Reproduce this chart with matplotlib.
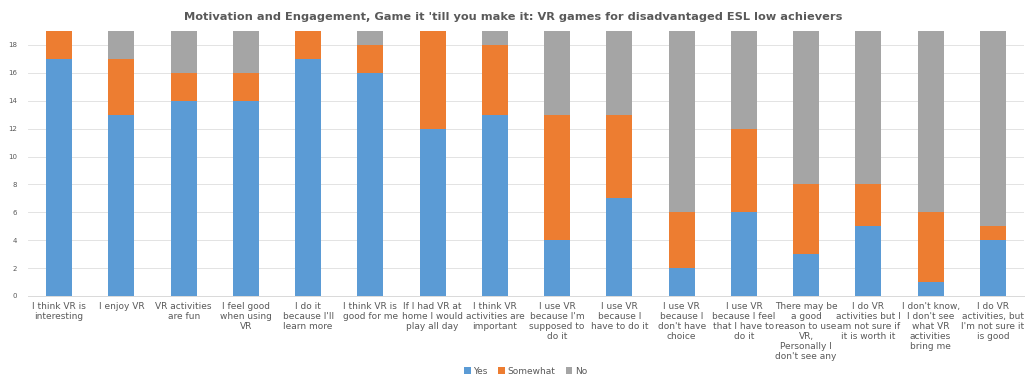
import matplotlib
matplotlib.use("Agg")
import matplotlib.pyplot as plt
import numpy as np

categories = [
    "I think VR is\ninteresting",
    "I enjoy VR",
    "VR activities\nare fun",
    "I feel good\nwhen using\nVR",
    "I do it\nbecause I'll\nlearn more",
    "I think VR is\ngood for me",
    "If I had VR at\nhome I would\nplay all day",
    "I think VR\nactivities are\nimportant",
    "I use VR\nbecause I'm\nsupposed to\ndo it",
    "I use VR\nbecause I\nhave to do it",
    "I use VR\nbecause I\ndon't have\nchoice",
    "I use VR\nbecause I feel\nthat I have to\ndo it",
    "There may be\na good\nreason to use\nVR,\nPersonally I\ndon't see any",
    "I do VR\nactivities but I\nam not sure if\nit is worth it",
    "I don't know,\nI don't see\nwhat VR\nactivities\nbring me",
    "I do VR\nactivities, but\nI'm not sure it\nis good",
]
yes = [17, 13, 14, 14, 17, 16, 12, 13, 4, 7, 2, 6, 3, 5, 1, 4]
somewhat = [2, 4, 2, 2, 2, 2, 7, 5, 9, 6, 4, 6, 5, 3, 5, 1]
no = [0, 2, 3, 3, 0, 1, 0, 1, 6, 6, 13, 7, 11, 11, 13, 14]
yticks = [0, 2, 4, 6, 8, 10, 12, 14, 16, 18]
title = "Motivation and Engagement, Game it 'till you make it: VR games for disadvantaged ESL low achievers"

c_yes = "#5B9BD5"
c_some = "#ED7D31"
c_no = "#A5A5A5"
txt = "#595959"

fig = plt.figure(figsize=(10.27, 3.79), dpi=100)
ax = fig.add_axes([28/1027, 1-296/379, 996/1027, (296-24)/379])

x = np.arange(len(categories))
yes_a = np.array(yes)
some_a = np.array(somewhat)
no_a = np.array(no)
w = 0.42
ax.bar(x, yes_a, w, color=c_yes, label="Yes", zorder=3)
ax.bar(x, some_a, w, bottom=yes_a, color=c_some, label="Somewhat", zorder=3)
ax.bar(x, no_a, w, bottom=yes_a + some_a, color=c_no, label="No", zorder=3)

ax.set_xlim(-0.5, len(categories) - 0.5)
ax.set_ylim(0, 19.5)
ax.set_yticks(yticks)
ax.set_yticklabels([str(v) for v in yticks], fontsize=5, color=txt)
ax.yaxis.grid(True, color="#E3E3E3", linewidth=0.7, zorder=0)
ax.set_xticks(x)
ax.set_xticklabels(categories, fontsize=6.5, color=txt, linespacing=1.15)
ax.tick_params(axis="both", length=0)
ax.tick_params(axis="x", pad=4)
ax.tick_params(axis="y", pad=8)
for s in ["top", "right", "left"]:
    ax.spines[s].set_visible(False)
ax.spines["bottom"].set_color("#D9D9D9")
ax.spines["bottom"].set_linewidth(0.7)

fig.text(0.5, 1-17/379, title, ha="center", va="center", fontsize=8.2,
         fontweight="bold", color=txt)

fig.legend(loc="center", bbox_to_anchor=(0.512, 1-371/379), ncol=3, frameon=False,
           fontsize=6.5, handlelength=0.7, handleheight=0.7, handletextpad=0.3,
           columnspacing=1.2, labelcolor=txt, borderpad=0.1)

fig.savefig("out.png", dpi=100)
